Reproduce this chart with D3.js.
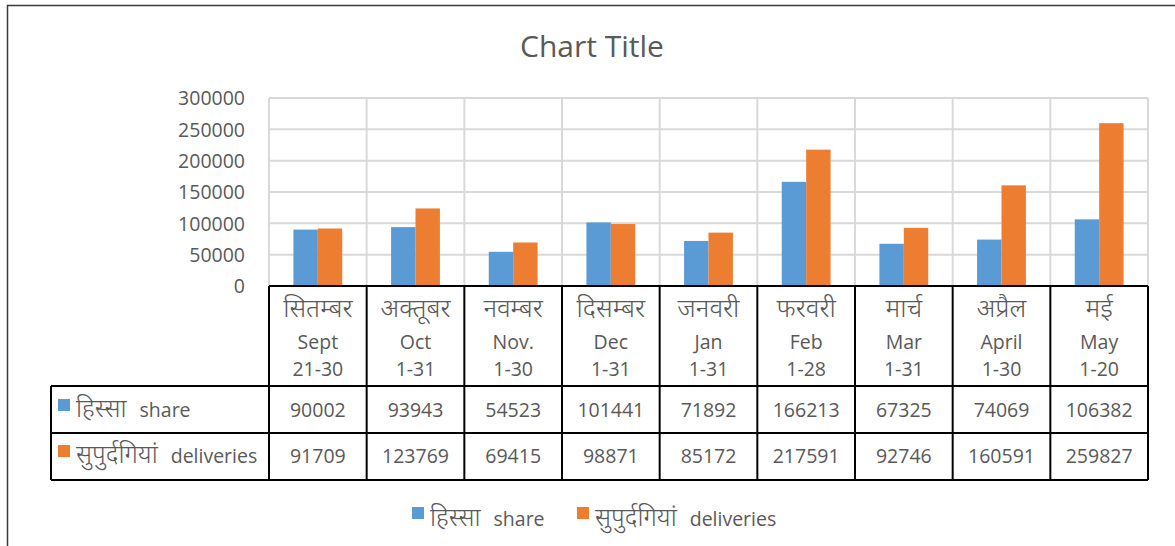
<html>
<head>
<meta charset="utf-8">
<style>
  body { margin: 0; background: #fff; }
  svg text { font-family: "Open Sans", "Noto Sans", "Noto Sans Devanagari", "Lohit Devanagari", sans-serif; fill: #595959; }
  .hi { font-weight: 300; }
  .grid line { stroke: #d9d9d9; stroke-width: 2; }
  .tbl line { stroke: #000; stroke-width: 2; }
</style>
<script src="https://d3js.org/d3.v7.min.js"></script>
</head>
<body>
<svg width="1175" height="546"></svg>
<script>
const hindiMonths = ["सितम्बर", "अक्तूबर", "नवम्बर", "दिसम्बर", "जनवरी", "फरवरी", "मार्च", "अप्रैल", "मई"];
const engMonths = ["Sept", "Oct", "Nov.", "Dec", "Jan", "Feb", "Mar", "April", "May"];
const ranges = ["21-30", "1-31", "1-30", "1-31", "1-31", "1-28", "1-31", "1-30", "1-20"];
const shareValues = [90002, 93943, 54523, 101441, 71892, 166213, 67325, 74069, 106382];
const deliveryValues = [91709, 123769, 69415, 98871, 85172, 217591, 92746, 160591, 259827];
const seriesHindi = ["हिस्सा", "सुपुर्दगियां"];
const seriesEnglish = ["share", "deliveries"];
const seriesColors = ["#5b9bd5", "#ed7d31"];
const yTicks = [0, 50000, 100000, 150000, 200000, 250000, 300000];

const svg = d3.select("svg");
const plotLeft = 269, plotRight = 1148, plotTop = 98, plotBottom = 286;
const tableLeft = 51, headBottom = 386, row1Bottom = 433, row2Bottom = 480;

// outer chart frame
svg.append("rect").attr("x", 7.5).attr("y", 5.5).attr("width", 1180).attr("height", 560)
  .attr("fill", "none").attr("stroke", "#3a3a3a").attr("stroke-width", 1.5);

svg.append("text").attr("x", 592).attr("y", 57).attr("text-anchor", "middle")
  .style("font-size", "30px").text("Chart Title");

const x = d3.scaleBand().domain(d3.range(engMonths.length)).range([plotLeft, plotRight]);
const xs = d3.scaleBand().domain([0, 1]).range([0, x.bandwidth()]).paddingOuter(1);
const y = d3.scaleLinear().domain([0, 300000]).range([plotBottom, plotTop]);

// gridlines
const grid = svg.append("g").attr("class", "grid");
grid.selectAll(".h").data(yTicks).enter().append("line")
  .attr("x1", plotLeft).attr("x2", plotRight).attr("y1", d => y(d)).attr("y2", d => y(d));
grid.selectAll(".v").data(d3.range(engMonths.length + 1)).enter().append("line")
  .attr("x1", d => plotLeft + d * x.step()).attr("x2", d => plotLeft + d * x.step())
  .attr("y1", plotTop).attr("y2", plotBottom);

// y axis labels
svg.append("g").attr("transform", "translate(" + (plotLeft - 21) + ",0)")
  .call(d3.axisLeft(y).tickValues(yTicks).tickSize(0).tickFormat(d3.format("d")))
  .call(g => g.select(".domain").remove())
  .call(g => g.selectAll("text").attr("fill", "#595959").attr("dy", "0.35em")
    .style("font-size", "19.5px"))
  .attr("font-family", null);

// bars
const series = [shareValues, deliveryValues];
series.forEach((vals, s) => {
  svg.append("g").selectAll("rect").data(vals).enter().append("rect")
    .attr("x", (d, i) => x(i) + xs(s))
    .attr("width", xs.bandwidth())
    .attr("y", d => y(d))
    .attr("height", d => y(0) - y(d))
    .attr("fill", seriesColors[s]);
});

// data table
const tbl = svg.append("g").attr("class", "tbl");
tbl.append("line").attr("x1", plotLeft).attr("x2", plotRight).attr("y1", plotBottom).attr("y2", plotBottom);
[headBottom, row1Bottom, row2Bottom].forEach(yy =>
  tbl.append("line").attr("x1", tableLeft).attr("x2", plotRight).attr("y1", yy).attr("y2", yy));
tbl.append("line").attr("x1", tableLeft).attr("x2", tableLeft).attr("y1", headBottom).attr("y2", row2Bottom);
tbl.selectAll(".v").data(d3.range(engMonths.length + 1)).enter().append("line")
  .attr("x1", d => plotLeft + d * x.step()).attr("x2", d => plotLeft + d * x.step())
  .attr("y1", plotBottom).attr("y2", row2Bottom);

const cx = i => x(i) + x.bandwidth() / 2;
svg.append("g").selectAll("text").data(hindiMonths).enter().append("text")
  .attr("class", "hi")
  .attr("x", (d, i) => cx(i)).attr("y", 317).attr("text-anchor", "middle")
  .style("font-size", "26px").text(d => d);
svg.append("g").selectAll("text").data(engMonths).enter().append("text")
  .attr("x", (d, i) => cx(i)).attr("y", 349).attr("text-anchor", "middle")
  .style("font-size", "19.5px").text(d => d);
svg.append("g").selectAll("text").data(ranges).enter().append("text")
  .attr("x", (d, i) => cx(i)).attr("y", 376).attr("text-anchor", "middle")
  .style("font-size", "19.5px").text(d => d);

// series label: larger Devanagari word followed by the English word
function seriesLabel(g, s, lx, ly) {
  const t = g.append("text").attr("x", lx).attr("y", ly);
  t.append("tspan").attr("class", "hi").style("font-size", "25px").text(seriesHindi[s]);
  t.append("tspan").attr("dx", 13).style("font-size", "19.5px").text(seriesEnglish[s]);
}

const rowY = [417, 463];
series.forEach((vals, s) => {
  svg.append("g").selectAll("text").data(vals).enter().append("text")
    .attr("x", (d, i) => cx(i)).attr("y", rowY[s]).attr("text-anchor", "middle")
    .style("font-size", "19.5px").text(d => d);
  svg.append("rect").attr("x", 58).attr("y", rowY[s] - 18).attr("width", 12).attr("height", 12)
    .attr("fill", seriesColors[s]);
  seriesLabel(svg, s, 76, rowY[s]);
});

// legend
const legendX = [412, 577];
seriesHindi.forEach((name, s) => {
  svg.append("rect").attr("x", legendX[s]).attr("y", 507).attr("width", 12).attr("height", 12)
    .attr("fill", seriesColors[s]);
  seriesLabel(svg, s, legendX[s] + 18, 526);
});
</script>
</body>
</html>
